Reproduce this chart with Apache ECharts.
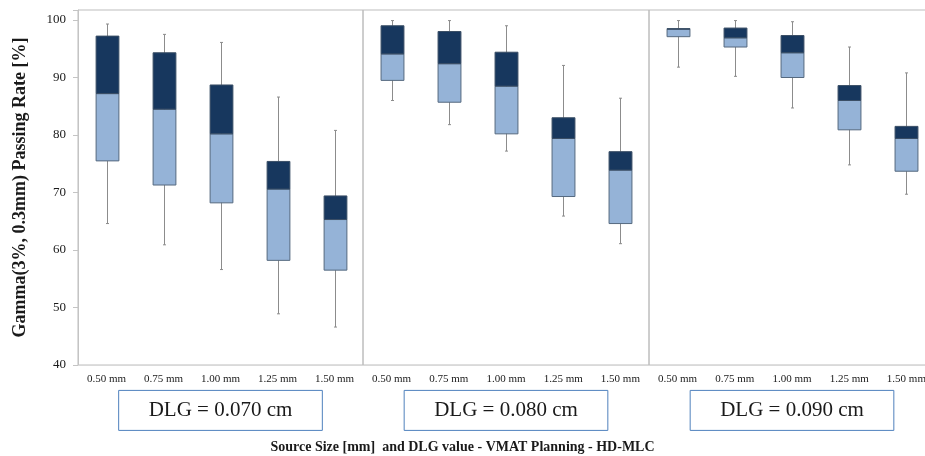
<!DOCTYPE html>
<html>
<head>
<meta charset="utf-8">
<script src="https://cdn.jsdelivr.net/npm/echarts@6/dist/echarts.min.js"></script>
<style>
    html, body { margin: 0; padding: 0; background: #fff; }
    #chart { width: 925px; height: 456px; }
</style>
</head>
<body>
<div id="chart"></div>
<script>
// 源尺寸分类
const sourceSizes = ['0.50 mm', '0.75 mm', '1.00 mm', '1.25 mm', '1.50 mm']
const dlgLabels = ['DLG = 0.070 cm', 'DLG = 0.080 cm', 'DLG = 0.090 cm']

// [min, Q1, median, Q3, max]
const dlg070 = [
    [64.6, 75.5, 87.2, 97.2, 99.3],
    [60.9, 71.3, 84.5, 94.3, 97.5],
    [56.6, 68.2, 80.2, 88.7, 96.1],
    [48.9, 58.2, 70.6, 75.4, 86.6],
    [46.6, 56.5, 65.3, 69.4, 80.8]
]
const dlg080 = [
    [86.0, 89.5, 94.1, 99.0, 99.9],
    [81.8, 85.7, 92.4, 98.0, 99.9],
    [77.2, 80.2, 88.5, 94.4, 99.0],
    [65.9, 69.3, 79.4, 83.0, 92.1],
    [61.1, 64.6, 73.9, 77.1, 86.4]
]
const dlg090 = [
    [91.8, 97.1, 98.4, 98.5, 99.9],
    [90.2, 95.3, 96.9, 98.6, 99.9],
    [84.7, 90.0, 94.3, 97.3, 99.7],
    [74.8, 80.9, 86.0, 88.6, 95.3],
    [69.7, 73.7, 79.4, 81.5, 90.8]
]
const yTicks = [40, 50, 60, 70, 80, 90, 100]

const serif = "'Liberation Serif', 'Times New Roman', serif"
const panels = [dlg070, dlg080, dlg090]
const gridLefts = [78, 363, 649]

// 箱体：下半浅蓝，上半深蓝
const renderBox = (params, api) => {
    const x = api.value(0)
    const lo = api.coord([x, api.value(1)])
    const q1 = api.coord([x, api.value(2)])
    const med = api.coord([x, api.value(3)])
    const q3 = api.coord([x, api.value(4)])
    const hi = api.coord([x, api.value(5)])
    const w = api.size([1, 0])[0] * 0.4
    const cx = Math.round(lo[0]) + 0.5
    const whisker = { stroke: '#8c8c8c', lineWidth: 1 }
    return {
        type: 'group',
        children: [
            { type: 'line', shape: { x1: cx, y1: hi[1], x2: cx, y2: lo[1] }, style: whisker },
            { type: 'line', shape: { x1: cx - 1.5, y1: hi[1], x2: cx + 1.5, y2: hi[1] }, style: whisker },
            { type: 'line', shape: { x1: cx - 1.5, y1: lo[1], x2: cx + 1.5, y2: lo[1] }, style: whisker },
            {
                type: 'rect',
                shape: { x: cx - w / 2, y: med[1], width: w, height: q1[1] - med[1] },
                style: { fill: '#95b3d7', stroke: '#55697f', lineWidth: 1 }
            },
            {
                type: 'rect',
                shape: { x: cx - w / 2, y: q3[1], width: w, height: med[1] - q3[1] },
                style: { fill: '#17375e', stroke: '#3b4f66', lineWidth: 1 }
            }
        ]
    }
}

const myChart = echarts.init(document.getElementById('chart'))
myChart.setOption({
    animation: false,
    title: {
        text: 'Source Size [mm]  and DLG value - VMAT Planning - HD-MLC',
        left: 'center',
        top: 435,
        textStyle: { fontFamily: serif, fontWeight: 'bold', fontSize: 14, color: '#1a1a1a' }
    },
    grid: gridLefts.map((left, i) => ({
        left: left,
        width: i === 0 ? 285 : 286,
        top: 10,
        bottom: 91,
        outerBoundsMode: 'none',
        show: true,
        borderColor: '#bdbdbd',
        borderWidth: 1
    })),
    xAxis: panels.map((p, i) => ({
        type: 'category',
        gridIndex: i,
        data: sourceSizes,
        name: dlgLabels[i],
        nameLocation: 'middle',
        nameGap: 22,
        nameTextStyle: {
            fontFamily: serif,
            fontSize: 21,
            color: '#1a1a1a',
            borderColor: '#4f81bd',
            borderWidth: 1,
            padding: [10, 30, 9, 30]
        },
        axisLine: { lineStyle: { color: '#d9d9d9' } },
        axisTick: { show: false },
        axisLabel: { fontFamily: serif, fontSize: 11, color: '#1a1a1a', margin: 9 }
    })),
    yAxis: panels.map((p, i) => ({
        type: 'value',
        gridIndex: i,
        min: 40,
        max: 101.74,
        interval: 10,
        show: i === 0,
        name: i === 0 ? 'Gamma(3%, 0.3mm) Passing Rate [%]' : '',
        nameLocation: 'middle',
        nameGap: 49,
        nameTextStyle: { fontFamily: serif, fontWeight: 'bold', fontSize: 18, color: '#1a1a1a' },
        axisLine: { show: true, lineStyle: { color: '#c4c4c4' } },
        axisTick: { show: true, length: 5, lineStyle: { color: '#c4c4c4' } },
        axisLabel: {
            fontFamily: serif,
            fontSize: 13,
            color: '#1a1a1a',
            margin: 12,
            formatter: v => (yTicks.includes(v) ? String(v) : '')
        },
        splitLine: { show: false }
    })),
    series: panels.map((p, i) => ({
        type: 'custom',
        xAxisIndex: i,
        yAxisIndex: i,
        renderItem: renderBox,
        encode: { x: 0, y: [1, 2, 3, 4, 5] },
        data: p.map((d, j) => [j].concat(d))
    }))
})
</script>
</body>
</html>
